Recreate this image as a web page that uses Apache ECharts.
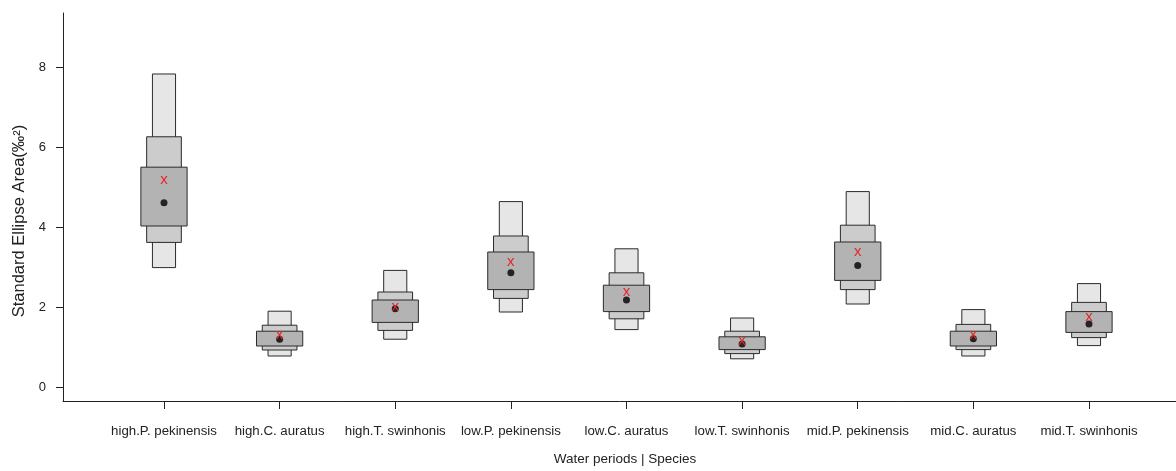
<!DOCTYPE html>
<html>
<head>
<meta charset="utf-8">
<script src="https://cdn.jsdelivr.net/npm/echarts@6/dist/echarts.min.js"></script>
<style>
  html, body { margin: 0; padding: 0; background: #ffffff; }
  #chart { width: 1176px; height: 471px; }
</style>
</head>
<body>
<div id="chart"></div>
<script>
// Groups: water period . species
const categories = [
  'high.P. pekinensis', 'high.C. auratus', 'high.T. swinhonis',
  'low.P. pekinensis', 'low.C. auratus', 'low.T. swinhonis',
  'mid.P. pekinensis', 'mid.C. auratus', 'mid.T. swinhonis'
];

// Bayesian SEA credible intervals (‰²)
const hdr95Low  = [2.99, 0.78, 1.20, 1.88, 1.44, 0.71, 2.08, 0.78, 1.04];
const hdr95High = [7.83, 1.90, 2.92, 4.64, 3.46, 1.73, 4.89, 1.94, 2.59];
const hdr75Low  = [3.62, 0.93, 1.42, 2.22, 1.71, 0.84, 2.44, 0.94, 1.24];
const hdr75High = [6.26, 1.55, 2.38, 3.78, 2.86, 1.40, 4.05, 1.57, 2.12];
const hdr50Low  = [4.03, 1.03, 1.62, 2.44, 1.89, 0.94, 2.67, 1.03, 1.37];
const hdr50High = [5.50, 1.40, 2.18, 3.38, 2.55, 1.26, 3.63, 1.40, 1.89];

// Posterior mode (black dot) and sample-size corrected SEAc (red x)
const modeValues = [4.61, 1.20, 1.96, 2.86, 2.18, 1.08, 3.04, 1.21, 1.58];
const seaCValues = [5.19, 1.32, 2.00, 3.13, 2.39, 1.17, 3.39, 1.32, 1.75];

const yTicks = [0, 2, 4, 6, 8];
const xTicks = categories.map((c, i) => i + 1);

// Interval boxes, drawn from the 95% level (narrow, light) to the 50% level (wide, dark)
const levels = [
  { low: hdr95Low, high: hdr95High, half: 0.10, fill: '#e6e6e6' },
  { low: hdr75Low, high: hdr75High, half: 0.15, fill: '#cccccc' },
  { low: hdr50Low, high: hdr50High, half: 0.20, fill: '#b3b3b3' }
];

function boxSeries(level) {
  return {
    type: 'custom',
    data: categories.map((c, i) => [i + 1, level.low[i], level.high[i]]),
    encode: { x: 0, y: [1, 2] },
    renderItem: function (params, api) {
      const x = api.value(0);
      const p1 = api.coord([x - level.half, api.value(2)]);
      const p2 = api.coord([x + level.half, api.value(1)]);
      const raw = { x: p1[0], y: p1[1], width: p2[0] - p1[0], height: p2[1] - p1[1] };
      const shape = echarts.graphic.subPixelOptimizeRect
        ? echarts.graphic.subPixelOptimizeRect({ shape: raw, style: { lineWidth: 1 } }).shape
        : raw;
      return {
        type: 'rect',
        shape: shape,
        style: { fill: level.fill, stroke: '#2b2b2b', lineWidth: 1 }
      };
    },
    silent: true,
    z: 2
  };
}

const chart = echarts.init(document.getElementById('chart'), null, { renderer: 'canvas' });

chart.setOption({
  backgroundColor: '#ffffff',
  animation: false,
  grid: { left: 63, right: 0, top: 13, bottom: 64, containLabel: false },
  xAxis: {
    type: 'value',
    min: 0.1265,
    max: 9.7525,
    name: 'Water periods | Species',
    nameLocation: 'middle',
    nameGap: 51,
    nameTextStyle: {
      fontFamily: 'Liberation Sans', fontSize: 13.5, color: '#222222',
      padding: [0, 0, 0, 11]
    },
    axisLine: { show: true, onZero: false, lineStyle: { color: '#222222', width: 1 } },
    axisTick: { show: true, length: 8, customValues: xTicks, lineStyle: { color: '#222222' } },
    axisLabel: {
      customValues: xTicks,
      formatter: v => categories[Math.round(v) - 1],
      margin: 24,
      fontFamily: 'Liberation Sans', fontSize: 13.25, color: '#222222'
    },
    splitLine: { show: false }
  },
  yAxis: {
    type: 'value',
    min: -0.3446,
    max: 9.354,
    name: 'Standard Ellipse Area(‰²)',
    nameLocation: 'middle',
    nameGap: 34,
    nameRotate: 90,
    nameTextStyle: {
      fontFamily: 'Liberation Sans', fontSize: 16.5, color: '#222222',
      padding: [0, 28, 0, 0]
    },
    axisLine: { show: true, onZero: false, lineStyle: { color: '#222222', width: 1 } },
    axisTick: { show: true, length: 7, customValues: yTicks, lineStyle: { color: '#222222' } },
    axisLabel: {
      customValues: yTicks,
      margin: 17,
      fontFamily: 'Liberation Sans', fontSize: 13, color: '#222222'
    },
    splitLine: { show: false }
  },
  series: [
    ...levels.map(boxSeries),
    {
      type: 'scatter',
      data: categories.map((c, i) => [i + 1, modeValues[i]]),
      symbol: 'circle',
      symbolSize: 7,
      itemStyle: { color: '#000000' },
      silent: true,
      z: 3
    },
    {
      type: 'custom',
      data: categories.map((c, i) => [i + 1, seaCValues[i]]),
      encode: { x: 0, y: 1 },
      renderItem: function (params, api) {
        const p = api.coord([api.value(0), api.value(1)]);
        return {
          type: 'text',
          x: p[0],
          y: p[1],
          style: {
            text: 'x',
            fill: '#e8262b',
            fontFamily: 'Liberation Sans',
            fontSize: 15,
            align: 'center',
            verticalAlign: 'middle'
          }
        };
      },
      silent: true,
      z: 4
    }
  ]
});
</script>
</body>
</html>
